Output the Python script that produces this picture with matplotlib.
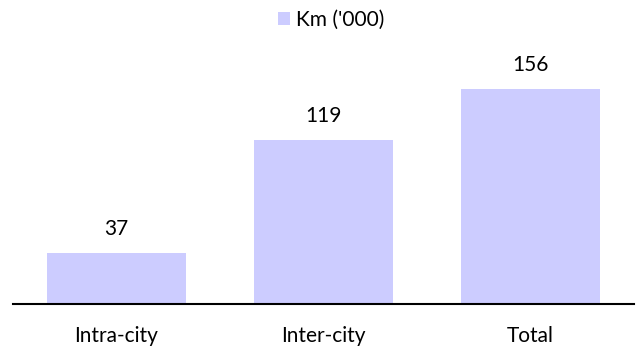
import matplotlib.pyplot as plt
from matplotlib.patches import Patch

categories = ['Intra-city', 'Inter-city', 'Total']
km_thousands = [37, 119, 156]
series_label = "Km ('000)"

bar_color = '#ccccff'

plt.rcParams['font.family'] = ['Lato', 'DejaVu Sans']

fig = plt.figure(figsize=(6.37, 3.49), dpi=100)
ax = fig.add_axes([13 / 637, 45 / 349, 621 / 637, 264.6 / 349])

x = range(len(categories))
bars = ax.bar(x, km_thousands, width=0.667, color=bar_color)

for rect, val in zip(bars, km_thousands):
    ax.text(rect.get_x() + rect.get_width() / 2, val + 17.5, str(val),
            ha='center', va='center', fontsize=15, color='#000000')

ax.set_xlim(-0.5, 2.5)
ax.set_ylim(0, 192)
ax.set_xticks(list(x))
ax.set_xticklabels(categories, fontsize=15)
ax.tick_params(axis='x', length=0, pad=16)
ax.set_yticks([])
for side in ['left', 'right', 'top']:
    ax.spines[side].set_visible(False)
ax.spines['bottom'].set_linewidth(1.5)
ax.spines['bottom'].set_color('#000000')

handle = Patch(facecolor=bar_color, edgecolor='none')
fig.legend([handle], [series_label], loc='center', bbox_to_anchor=(0.52, 1 - 20 / 349),
           frameon=False, fontsize=15, handlelength=0.6, handleheight=0.6,
           handletextpad=0.3)

fig.savefig('out.png', dpi=100)
